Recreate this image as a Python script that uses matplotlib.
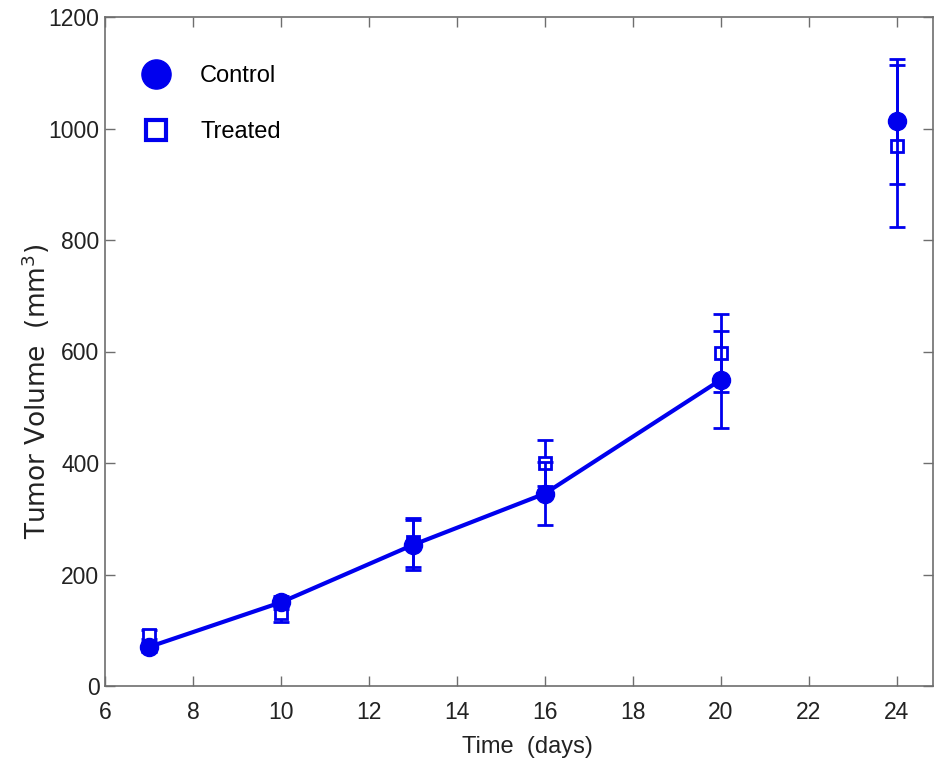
import matplotlib
matplotlib.use("Agg")
import matplotlib.pyplot as plt
from matplotlib.lines import Line2D

# Daten
days = [7, 10, 13, 16, 20, 24]
control = [70, 150, 253, 345, 549, 1013]
control_err = [9, 11, 45, 57, 87, 112]
treated = [92, 131, 258, 400, 597, 969]
treated_err = [8, 16, 44, 41, 70, 145]
n_line = 5  # nur bis Tag 20 verbunden

blue = "#0000ee"
spine_gray = "#6e6e6e"
font = "Liberation Sans"

fig = plt.figure(figsize=(9.34, 7.64), dpi=100)
ax = fig.add_axes([105 / 934, 1 - 686 / 764, (933 - 105) / 934, (686 - 17) / 764])

ax.plot(days[:n_line], control[:n_line], color=blue, lw=3, zorder=2)
ax.errorbar(days, treated, yerr=treated_err, fmt="s", mfc="white", mec=blue, mew=2,
            ms=9, ecolor=blue, elinewidth=2, capsize=6, capthick=2, zorder=3)
ax.errorbar(days, control, yerr=control_err, fmt="o", color=blue, ms=13,
            ecolor=blue, elinewidth=2, capsize=6, capthick=2, zorder=4)

ax.set_xlim(6, 24.83)
ax.set_ylim(0, 1200)
ax.set_xticks(range(6, 25, 2))
ax.set_yticks(range(0, 1201, 200))

for s in ax.spines.values():
    s.set_color(spine_gray)
    s.set_linewidth(1.2)
ax.tick_params(direction="in", length=7, width=1, color=spine_gray,
               top=True, right=True, labelsize=16.5)
ax.tick_params(axis="x", pad=11)
ax.tick_params(axis="y", pad=4)
for lab in ax.get_xticklabels() + ax.get_yticklabels():
    lab.set_family(font)
    lab.set_color("#222222")

ax.set_xlabel("Time  (days)", fontsize=17, family=font, color="#222222")
ax.xaxis.set_label_coords(0.51, -0.075)
ax.set_ylabel("Tumor Volume  (mm$^3$)", fontsize=19, family="DejaVu Sans", color="#222222")
ax.yaxis.set_label_coords(-0.064, 0.44)

handles = [
    Line2D([], [], marker="o", ls="none", color=blue, ms=21),
    Line2D([], [], marker="s", ls="none", mfc="white", mec=blue, mew=3, ms=15),
]
ax.legend(handles, ["Control", "Treated"], loc="upper left", frameon=False,
          prop={"family": font, "size": 17}, bbox_to_anchor=(0.008, 0.96),
          handletextpad=0.85, labelspacing=1.45)

plt.savefig("out.png", dpi=100)
plt.close()
